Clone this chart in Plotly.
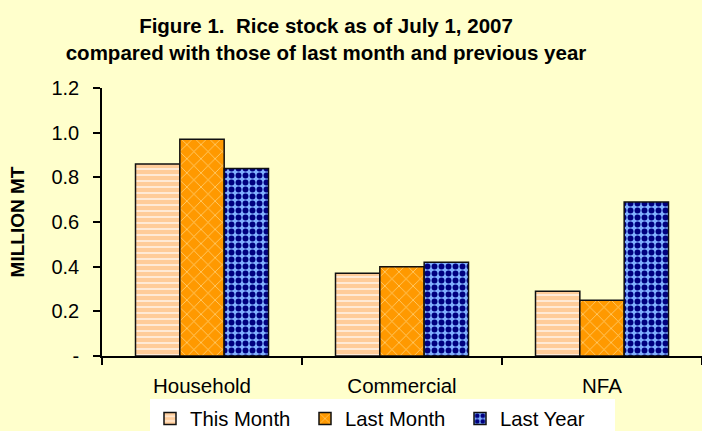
import plotly.graph_objects as go

categories = ["Household", "Commercial", "NFA"]
this_month = [0.86, 0.37, 0.29]
last_month = [0.97, 0.40, 0.25]
last_year = [0.84, 0.42, 0.69]
series_names = ["This Month", "Last Month", "Last Year"]
y_tickvals = [0, 0.2, 0.4, 0.6, 0.8, 1.0, 1.2]
y_ticktext = ["-", "0.2", "0.4", "0.6", "0.8", "1.0", "1.2"]

FONT = "Liberation Sans, Arial, sans-serif"
BG = "#FFFFCC"

styles = [
    dict(bg="#FFCC99", fg="#FFEEDD", shape="-", size=6, solidity=0.3),
    dict(bg="#FF9900", fg="#FFD27A", shape="x", size=10, solidity=0.15),
    dict(bg="#80B0FF", fg="#000080", shape=".", size=7, solidity=0.55),
]

fig = go.Figure()
for name, vals, st in zip(series_names, [this_month, last_month, last_year], styles):
    fig.add_trace(go.Bar(
        x=categories, y=vals, name=name,
        marker=dict(
            color=st["bg"],
            line=dict(color="#111111", width=1.5),
            pattern=dict(shape=st["shape"], fgcolor=st["fg"], bgcolor=st["bg"],
                         size=st["size"], solidity=st["solidity"], fillmode="replace"),
        ),
    ))

fig.update_layout(
    width=702, height=431,
    margin=dict(l=102, r=0, t=88, b=75, autoexpand=False),
    paper_bgcolor=BG, plot_bgcolor=BG,
    font=dict(family=FONT, size=20, color="#000000"),
    barmode="group", bargap=0.335, bargroupgap=0,
    title=dict(
        text="<b>Figure 1.  Rice stock as of July 1, 2007<br>compared with those of last month and previous year</b>",
        x=326 / 702, xanchor="center", y=1 - 33 / 431, yanchor="middle",
        font=dict(family=FONT, size=20.5, color="#000000"),
    ),
    showlegend=True,
    legend=dict(
        orientation="h", x=0.4675, xanchor="center", y=-0.160, yanchor="top",
        bgcolor="#FFFFFF", font=dict(family=FONT, size=20.3),
        entrywidth=110, entrywidthmode="pixels", traceorder="normal",
    ),
    xaxis=dict(
        showline=True, linecolor="#000000", linewidth=1.5,
        ticks="outside", ticklen=7, tickcolor="#000000", tickwidth=1.5,
        tickson="boundaries", showgrid=False, zeroline=False,
        ticklabelstandoff=11,
        tickfont=dict(family=FONT, size=20.5),
    ),
    yaxis=dict(
        range=[0, 1.2], tickvals=y_tickvals, ticktext=y_ticktext,
        showline=True, linecolor="#000000", linewidth=1.5,
        ticks="outside", ticklen=7, tickcolor="#000000", tickwidth=1.5,
        showgrid=False, zeroline=False, ticklabelstandoff=10,
        tickfont=dict(family=FONT, size=20),
        automargin=True,
        title=dict(text="<b>MILLION MT</b>", font=dict(family=FONT, size=19), standoff=22),
    ),
)

fig.write_html("out.html", config={"displayModeBar": False},
               post_script="document.body.style.margin='0px';")
